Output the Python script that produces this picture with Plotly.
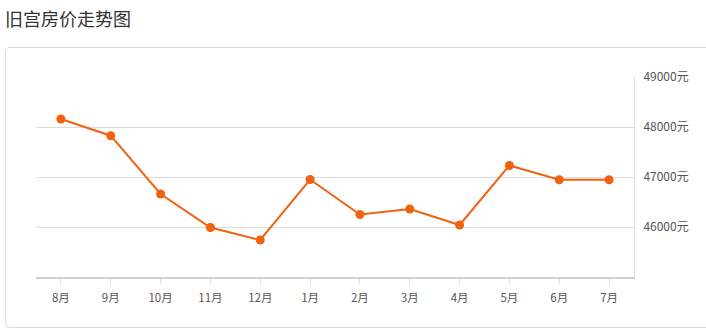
import plotly.graph_objects as go

months = ["8月", "9月", "10月", "11月", "12月", "1月", "2月", "3月", "4月", "5月", "6月", "7月"]
prices = [48160, 47826, 46660, 45990, 45740, 46950, 46250, 46360, 46040, 47230, 46945, 46945]
y_ticks = [46000, 47000, 48000, 49000]
y_tick_text = ["46000元", "47000元", "48000元", "49000元"]
title_text = "旧宫房价走势图"

W, H = 706, 334
L, R, T, B = 36, 72, 77, 57
pw, ph = W - L - R, H - T - B

def px(x):
    return (x - L) / pw

def py(y):
    return (H - B - y) / ph

# rounded container box (pixel geometry converted to paper coords)
x0, x1, y0, y1, r = 5.5, 730, 47.5, 327.5, 4
path = (
    f"M {px(x0 + r)},{py(y0)} L {px(x1)},{py(y0)} L {px(x1)},{py(y1)} "
    f"L {px(x0 + r)},{py(y1)} Q {px(x0)},{py(y1)} {px(x0)},{py(y1 - r)} "
    f"L {px(x0)},{py(y0 + r)} Q {px(x0)},{py(y0)} {px(x0 + r)},{py(y0)} Z"
)

fig = go.Figure()
fig.add_trace(go.Scatter(
    x=months, y=prices, mode="lines+markers",
    line=dict(color="#f0620f", width=2),
    marker=dict(color="#f0620f", size=9),
    hoverinfo="x+y", showlegend=False,
))

font_family = "Noto Sans CJK SC, Microsoft YaHei, sans-serif"
fig.update_layout(
    width=W, height=H,
    margin=dict(l=L, r=R, t=T, b=B),
    paper_bgcolor="white", plot_bgcolor="white",
    font=dict(family=font_family, size=11, color="#555"),
    shapes=[dict(type="path", xref="paper", yref="paper", path=path,
                 line=dict(color="#dcdcdc", width=1), fillcolor="rgba(0,0,0,0)", layer="below")],
    annotations=[dict(text=title_text, xref="paper", yref="paper",
                      x=px(3), y=py(18), xanchor="left", yanchor="middle",
                      showarrow=False, font=dict(size=18, color="#333", family=font_family))],
)
fig.update_xaxes(
    type="category", range=[-0.5, len(months) - 0.5], showgrid=False, zeroline=False,
    showline=True, linecolor="#d0d0d0", linewidth=2,
    ticks="outside", ticklen=5, tickcolor="#dddddd", tickwidth=1,
    ticklabelstandoff=4,
    tickfont=dict(size=11.5, color="#555"),
)
fig.update_yaxes(
    range=[45000, 49000], side="right",
    tickvals=y_ticks, ticktext=y_tick_text,
    showgrid=True, gridcolor="#dedede", gridwidth=1, zeroline=False,
    showline=True, linecolor="#dedede", linewidth=1,
    ticks="outside", ticklen=6, tickcolor="rgba(0,0,0,0)",
    tickfont=dict(size=12, color="#555"),
)
fig.write_html("out.html")
